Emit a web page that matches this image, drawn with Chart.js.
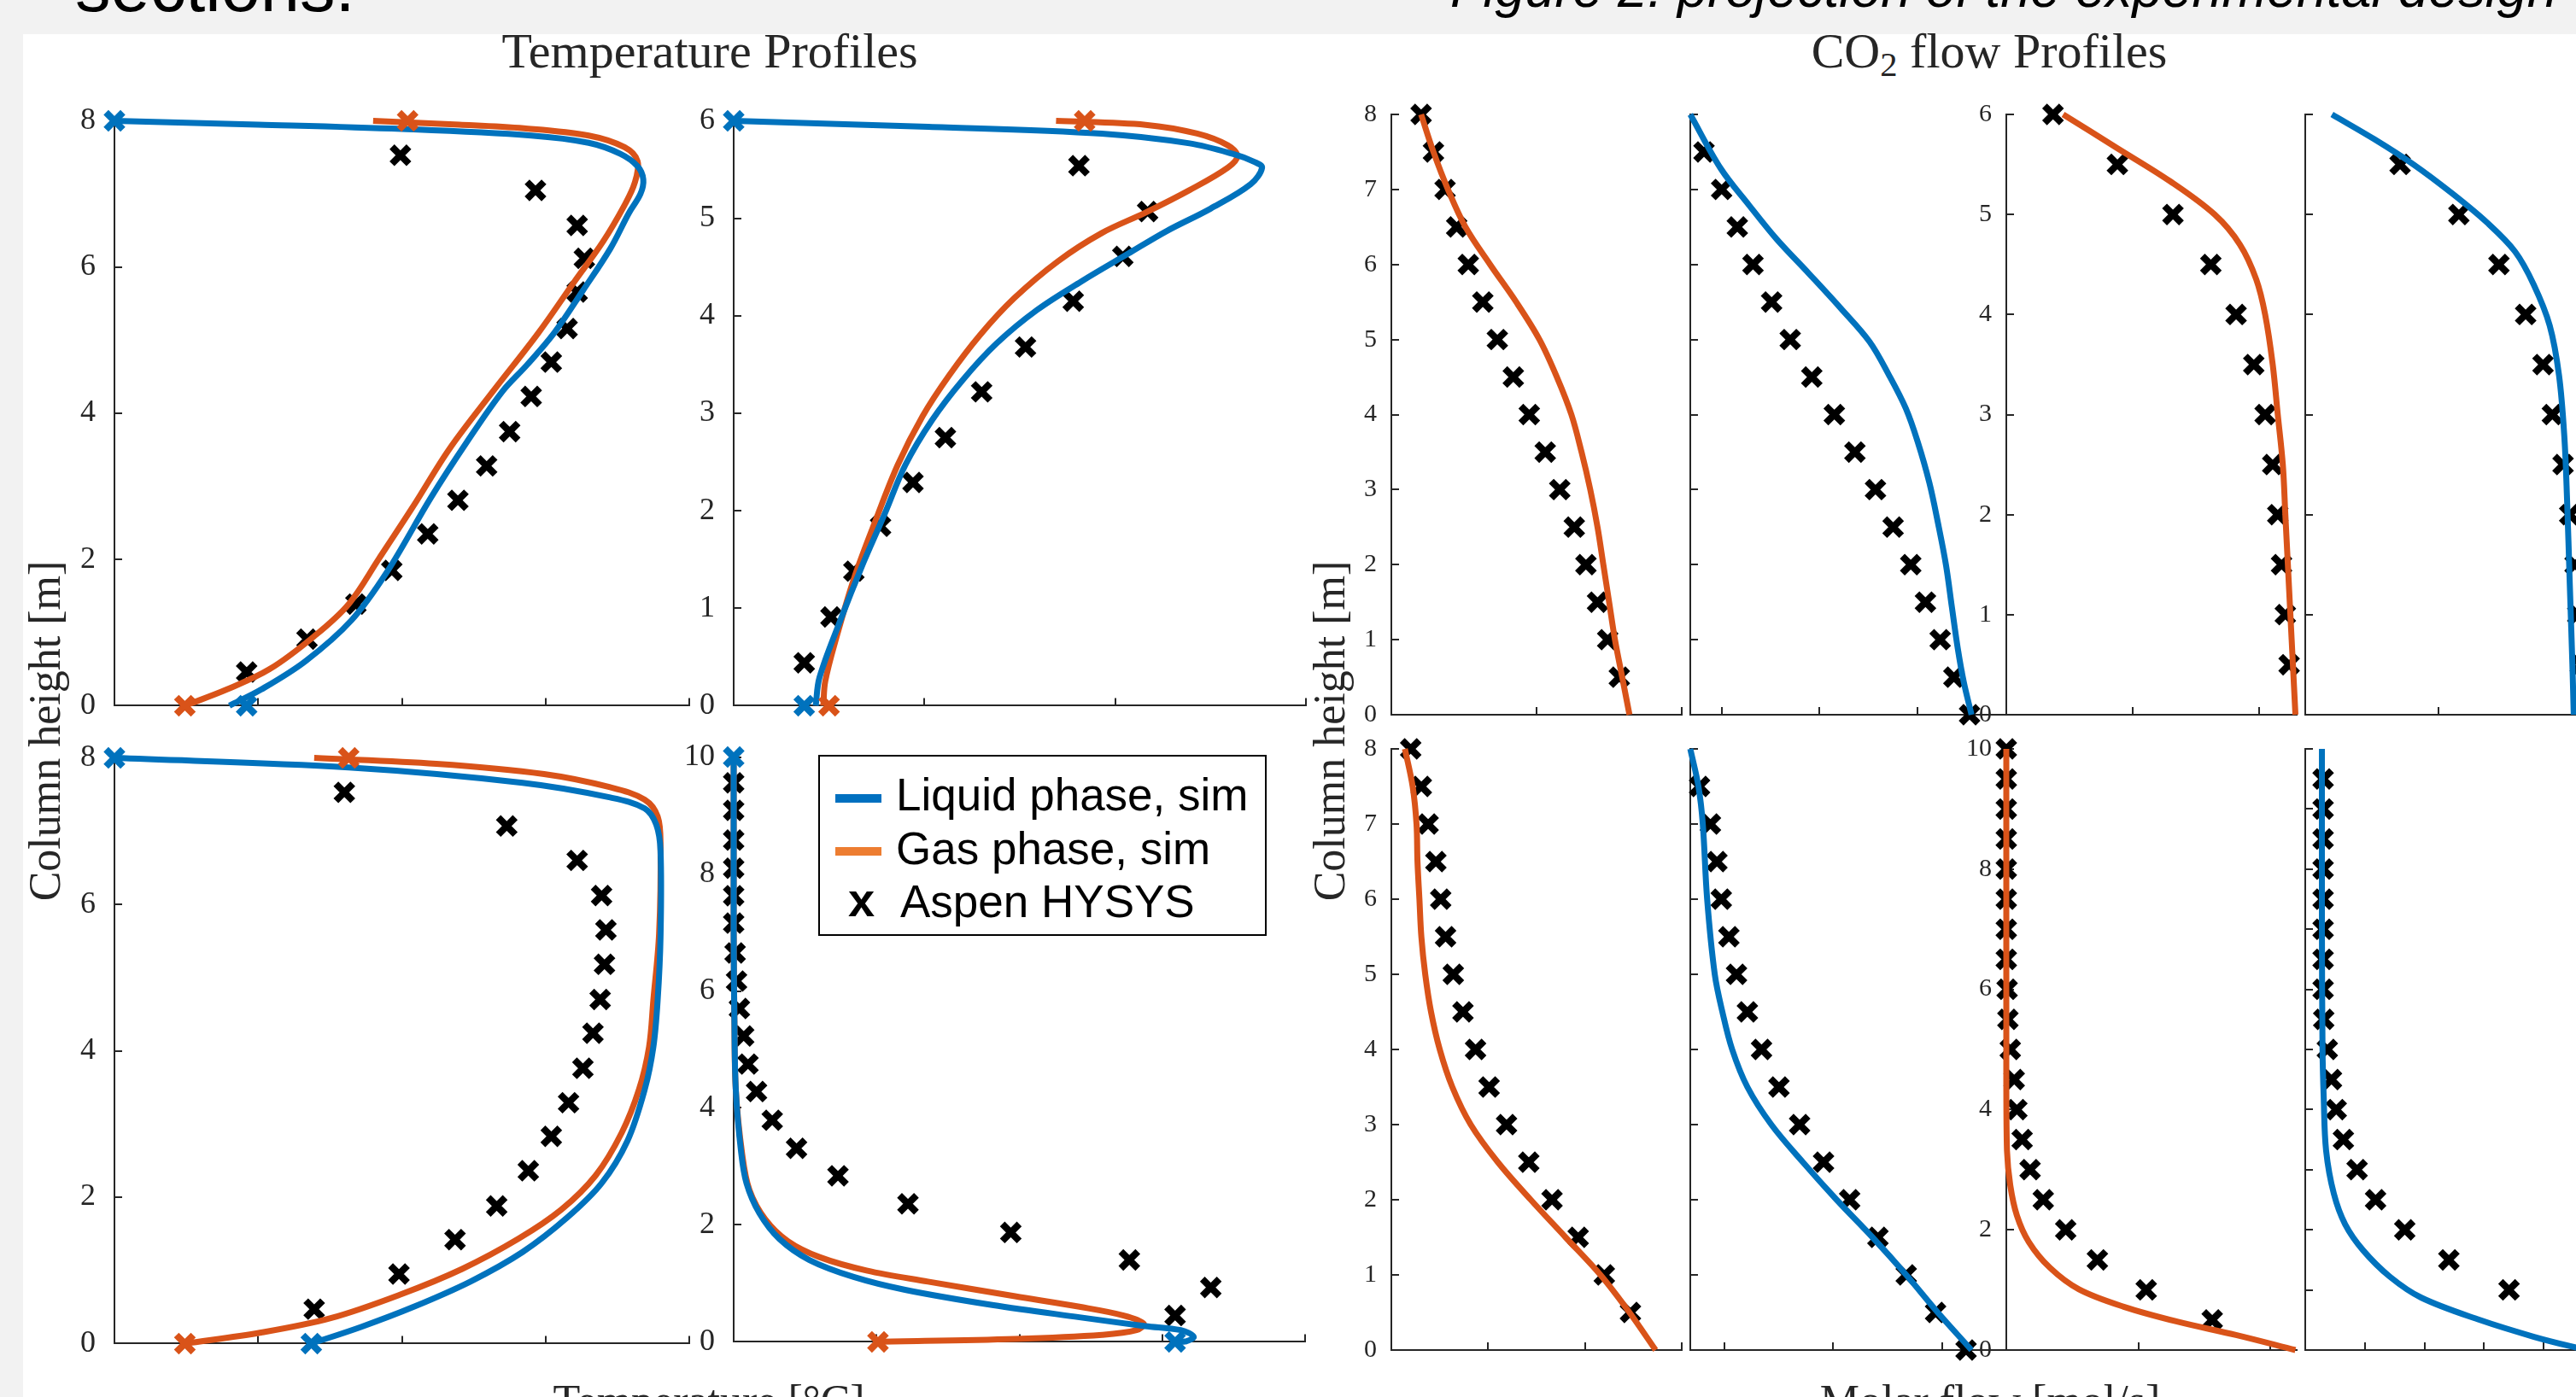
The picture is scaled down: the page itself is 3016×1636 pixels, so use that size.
<!DOCTYPE html>
<html>
<head>
<meta charset="utf-8">
<script src="https://cdn.jsdelivr.net/npm/chart.js@4.4.1/dist/chart.umd.min.js"></script>
<style>
  html, body { margin: 0; padding: 0; }
  body { width: 3016px; height: 1636px; overflow: hidden; background: #f2f2f2; position: relative; }
  #sheet { position: absolute; left: 27px; top: 40px; right: 0; bottom: 0; background: #fff; }
  canvas { position: absolute; }
  .txt { position: absolute; white-space: nowrap; line-height: 1; color: #262626; font-family: "Liberation Serif", serif; }
  .center { transform: translateX(-50%); }
  .ylab { transform: translate(-50%, -50%) rotate(-90deg); }
  #legend { position: absolute; left: 958px; top: 884px; width: 525px; height: 212px; border: 2px solid #000; background: #fff; box-sizing: border-box; font-family: "Liberation Sans", Arial, sans-serif; z-index: 5; }
  #legend .sw { position: absolute; left: 18px; width: 54px; height: 10px; }
  #legend .lt { position: absolute; font-size: 53px; line-height: 1; color: #000; white-space: nowrap; }
</style>
</head>
<body>
<div id="sheet"></div>

<div class="txt" style="left:88px;top:-57px;font-family:'Liberation Sans',Arial,sans-serif;font-size:83px;color:#000;">sections.</div>
<div class="txt" style="left:1698px;top:-45px;font-family:'Liberation Sans',Arial,sans-serif;font-style:italic;font-size:63px;color:#000;">Figure 2: projection of the experimental design</div>

<div class="txt center" style="left:831px;top:31px;font-size:58px;">Temperature Profiles</div>
<div class="txt center" style="left:2329px;top:31px;font-size:58px;">CO<span style="font-size:0.7em;vertical-align:-0.25em;">2</span> flow Profiles</div>
<div class="txt ylab" style="left:53px;top:856px;font-size:52px;">Column height [m]</div>
<div class="txt ylab" style="left:1557px;top:856px;font-size:52px;">Column height [m]</div>
<div class="txt center" style="left:830px;top:1615px;font-size:52px;">Temperature [°C]</div>
<div class="txt center" style="left:2330px;top:1615px;font-size:52px;">Molar flow [mol/s]</div>

<div id="legend">
  <div class="sw" style="top:44px;background:#0070C0;"></div>
  <div class="lt" style="left:89px;top:18px;">Liquid phase, sim</div>
  <div class="sw" style="top:106px;background:#ED7D31;"></div>
  <div class="lt" style="left:89px;top:81px;">Gas phase, sim</div>
  <div class="lt" style="left:33px;top:140px;font-weight:bold;font-size:56px;">x</div>
  <div class="lt" style="left:94px;top:143px;">Aspen HYSYS</div>
</div>

<script>
// colours
const BLUE = '#0072BD';
const ORANGE = '#D95319';
const AX = '#262626';

// ---- Temperature, case 1 (top left) ----
const t1LiqX = [0, 1.0, 2.0, 2.9, 3.3, 3.52, 3.64, 3.68, 3.66, 3.58, 3.45, 3.26, 3.06, 2.87, 2.70, 2.45, 2.20, 1.90, 1.65, 1.33, 1.02, 0.80];
const t1LiqH = [8.0, 7.95, 7.89, 7.80, 7.70, 7.55, 7.38, 7.20, 7.00, 6.74, 6.25, 5.68, 5.10, 4.66, 4.30, 3.60, 2.84, 1.84, 1.17, 0.61, 0.22, 0.0];
const t1GasX = [1.80, 2.4, 2.85, 3.3, 3.55, 3.64, 3.62, 3.55, 3.40, 3.20, 2.95, 2.63, 2.33, 2.08, 1.84, 1.63, 1.39, 1.08, 0.78, 0.49];
const t1GasH = [8.0, 7.95, 7.90, 7.80, 7.64, 7.45, 7.15, 6.85, 6.35, 5.80, 5.10, 4.29, 3.51, 2.73, 2.01, 1.39, 0.95, 0.50, 0.22, 0.0];
const t1HysX = [1.99, 2.93, 3.22, 3.27, 3.22, 3.15, 3.04, 2.90, 2.75, 2.59, 2.39, 2.18, 1.93, 1.68, 1.34, 0.92];
const t1HysH = [7.53, 7.05, 6.57, 6.12, 5.66, 5.16, 4.70, 4.23, 3.75, 3.28, 2.81, 2.35, 1.85, 1.39, 0.91, 0.46];
const t1EndLiqX = [0, 0.92], t1EndLiqH = [8, 0];
const t1EndGasX = [2.04, 0.49], t1EndGasH = [8, 0];

// ---- Temperature, case 2 (top right) ----
const t2LiqX = [0, 1.02, 1.93, 2.39, 2.62, 2.73, 2.77, 2.71, 2.50, 2.27, 2.07, 1.82, 1.59, 1.38, 1.20, 1.04, 0.90, 0.79, 0.67, 0.56, 0.45, 0.43];
const t2LiqH = [6, 5.94, 5.87, 5.77, 5.66, 5.58, 5.52, 5.35, 5.10, 4.87, 4.64, 4.35, 4.06, 3.72, 3.34, 2.93, 2.47, 1.96, 1.42, 0.88, 0.29, 0.0];
const t2GasX = [1.69, 2.16, 2.43, 2.59, 2.64, 2.59, 2.39, 2.16, 1.93, 1.70, 1.47, 1.29, 1.13, 0.99, 0.86, 0.74, 0.63, 0.54, 0.48, 0.47];
const t2GasH = [6.0, 5.96, 5.87, 5.75, 5.64, 5.52, 5.29, 5.06, 4.85, 4.56, 4.18, 3.80, 3.39, 2.97, 2.47, 1.88, 1.30, 0.71, 0.25, 0.0];
const t2HysX = [1.81, 2.17, 2.04, 1.78, 1.53, 1.30, 1.11, 0.94, 0.77, 0.63, 0.51, 0.37];
const t2HysH = [5.54, 5.07, 4.61, 4.15, 3.68, 3.22, 2.75, 2.29, 1.84, 1.38, 0.91, 0.44];
const t2EndLiqX = [0, 0.37], t2EndLiqH = [6, 0];
const t2EndGasX = [1.84, 0.50], t2EndGasH = [6, 0];

// ---- Temperature, case 3 (bottom left) ----
const t3LiqX = [0, 1.63, 2.84, 3.45, 3.69, 3.77, 3.80, 3.80, 3.78, 3.75, 3.69, 3.57, 3.39, 3.15, 2.84, 2.48, 2.08, 1.72, 1.37];
const t3LiqH = [8, 7.87, 7.66, 7.46, 7.31, 7.09, 6.73, 5.56, 4.69, 4.05, 3.47, 2.77, 2.19, 1.72, 1.25, 0.85, 0.50, 0.23, 0];
const t3GasX = [1.39, 2.24, 2.99, 3.45, 3.69, 3.78, 3.80, 3.79, 3.75, 3.72, 3.65, 3.53, 3.35, 3.11, 2.81, 2.42, 1.99, 1.51, 1.02, 0.49];
const t3GasH = [8, 7.92, 7.78, 7.60, 7.43, 7.20, 6.80, 5.6, 4.69, 4.05, 3.47, 2.88, 2.30, 1.83, 1.43, 1.02, 0.67, 0.35, 0.15, 0];
const t3HysX = [1.60, 2.73, 3.22, 3.39, 3.42, 3.41, 3.38, 3.33, 3.26, 3.16, 3.04, 2.88, 2.66, 2.37, 1.98, 1.39];
const t3HysH = [7.53, 7.07, 6.60, 6.12, 5.65, 5.18, 4.70, 4.24, 3.76, 3.29, 2.83, 2.36, 1.88, 1.42, 0.95, 0.47];
const t3EndLiqX = [0, 1.37], t3EndLiqH = [8, 0];
const t3EndGasX = [1.63, 0.49], t3EndGasH = [8, 0];

// ---- Temperature, case 4 (bottom right) ----
const t4LiqX = [0, 0, 0.005, 0.015, 0.05, 0.09, 0.18, 0.32, 0.53, 0.84, 1.20, 1.81, 2.42, 2.88, 3.13, 3.22, 3.17, 3.09];
const t4LiqH = [10, 7, 5.5, 4.3, 3.29, 2.71, 2.20, 1.76, 1.40, 1.11, 0.89, 0.63, 0.42, 0.27, 0.20, 0.09, 0.01, 0];
const t4GasX = [0, 0, 0.005, 0.015, 0.06, 0.11, 0.22, 0.38, 0.60, 0.93, 1.36, 1.97, 2.42, 2.73, 2.87, 2.82, 2.58, 1.97, 1.01];
const t4GasH = [10, 7, 5.5, 4.3, 3.2, 2.6, 2.1, 1.72, 1.45, 1.22, 1.03, 0.78, 0.60, 0.45, 0.31, 0.20, 0.12, 0.05, 0];
const t4HysX = [0, 0, 0, 0, 0, 0, 0.01, 0.02, 0.04, 0.07, 0.10, 0.16, 0.27, 0.44, 0.73, 1.22, 1.94, 2.77, 3.34, 3.09];
const t4HysH = [9.56, 9.09, 8.58, 8.10, 7.63, 7.16, 6.65, 6.17, 5.70, 5.23, 4.75, 4.28, 3.79, 3.31, 2.84, 2.36, 1.87, 1.40, 0.93, 0.45];
const t4EndLiqX = [0, 3.09], t4EndLiqH = [10, 0];
const t4EndGasX = [1.01], t4EndGasH = [0];

// ---- CO2 flow, case 1 gas / liquid ----
const c1GasX = [0.205, 0.29, 0.39, 0.51, 0.68, 0.86, 1.02, 1.14, 1.24, 1.31, 1.37, 1.42, 1.46, 1.50, 1.54, 1.59, 1.64];
const c1GasH = [8, 7.5, 7, 6.5, 6, 5.5, 5, 4.5, 4, 3.5, 3, 2.5, 2, 1.5, 1, 0.5, 0];
const c1HysX = [0.205, 0.29, 0.37, 0.45, 0.53, 0.63, 0.73, 0.84, 0.95, 1.06, 1.16, 1.26, 1.34, 1.42, 1.49, 1.57];
const c1HysH = [8, 7.5, 7, 6.5, 6, 5.5, 5, 4.5, 4, 3.5, 3, 2.5, 2, 1.5, 1, 0.5];
const c2LiqX = [0.68, 0.99, 1.28, 1.56, 1.89, 2.22, 2.51, 2.71, 2.88, 3.00, 3.12, 3.21, 3.29, 3.35, 3.41, 3.47, 3.55];
const c2LiqH = [8, 7.28, 6.79, 6.34, 5.88, 5.41, 4.97, 4.52, 4.08, 3.64, 3.09, 2.54, 1.99, 1.43, 0.88, 0.44, 0];
const c2HysX = [0.82, 1.00, 1.16, 1.32, 1.51, 1.70, 1.92, 2.15, 2.36, 2.57, 2.75, 2.93, 3.08, 3.23, 3.37, 3.53];
const c2HysH = [7.5, 7, 6.5, 6, 5.5, 5, 4.5, 4, 3.5, 3, 2.5, 2, 1.5, 1, 0.5, 0];

// ---- CO2 flow, case 2 gas / liquid ----
const c3GasX = [0.45, 0.87, 1.30, 1.65, 1.85, 1.98, 2.05, 2.11, 2.15, 2.19, 2.21, 2.23, 2.25, 2.27, 2.29];
const c3GasH = [6, 5.67, 5.33, 5.0, 4.7, 4.35, 4.0, 3.5, 3.0, 2.5, 2.0, 1.5, 1.0, 0.5, 0];
const c3HysX = [0.37, 0.88, 1.32, 1.62, 1.82, 1.96, 2.05, 2.11, 2.15, 2.18, 2.21, 2.24];
const c3HysH = [6, 5.5, 5, 4.5, 4, 3.5, 3, 2.5, 2, 1.5, 1, 0.5];
const c4LiqX = [0.20, 0.52, 0.81, 1.10, 1.36, 1.57, 1.71, 1.83, 1.90, 1.94, 1.96, 1.98, 2.00, 2.01];
const c4LiqH = [6, 5.75, 5.50, 5.21, 4.92, 4.63, 4.30, 3.89, 3.39, 2.77, 2.15, 1.32, 0.50, 0];
const c4HysX = [0.71, 1.15, 1.45, 1.65, 1.78, 1.85, 1.93, 1.98, 2.02, 2.04, 2.06];
const c4HysH = [5.5, 5, 4.5, 4, 3.5, 3, 2.5, 2, 1.5, 1, 0.5];

// ---- CO2 flow, case 3 gas / liquid ----
const d1GasX = [0.14, 0.22, 0.26, 0.27, 0.29, 0.31, 0.35, 0.41, 0.50, 0.63, 0.82, 1.10, 1.44, 1.80, 2.16, 2.46, 2.73];
const d1GasH = [8, 7.5, 7, 6.5, 6, 5.5, 5, 4.5, 4, 3.5, 3, 2.5, 2, 1.5, 1, 0.5, 0];
const d1HysX = [0.20, 0.31, 0.38, 0.46, 0.51, 0.56, 0.64, 0.74, 0.87, 1.01, 1.19, 1.42, 1.66, 1.93, 2.20, 2.47];
const d1HysH = [8, 7.5, 7, 6.5, 6, 5.5, 5, 4.5, 4, 3.5, 3, 2.5, 2, 1.5, 1, 0.5];
const d2LiqX = [0.685, 0.76, 0.80, 0.84, 0.91, 0.98, 1.07, 1.21, 1.43, 1.72, 2.03, 2.36, 2.67, 2.96, 3.27];
const d2LiqH = [8, 7.5, 7, 6, 5, 4.5, 4, 3.5, 3, 2.5, 2, 1.5, 1, 0.5, 0];
const d2HysX = [0.77, 0.87, 0.93, 0.97, 1.04, 1.11, 1.21, 1.34, 1.50, 1.69, 1.91, 2.15, 2.41, 2.67, 2.94, 3.22];
const d2HysH = [7.5, 7, 6.5, 6, 5.5, 5, 4.5, 4, 3.5, 3, 2.5, 2, 1.5, 1, 0.5, 0];

// ---- CO2 flow, case 4 gas / liquid ----
const d3GasX = [0, 0, 0, 0.005, 0.03, 0.08, 0.17, 0.33, 0.55, 0.89, 1.30, 1.74, 2.19];
const d3GasH = [10, 7, 4.5, 3.32, 2.74, 2.24, 1.80, 1.37, 1.01, 0.72, 0.47, 0.25, 0];
const d3HysX = [0, 0, 0, 0, 0, 0, 0, 0, 0.006, 0.012, 0.03, 0.06, 0.08, 0.12, 0.18, 0.28, 0.45, 0.69, 1.06, 1.56];
const d3HysH = [10, 9.5, 9, 8.5, 8, 7.5, 7, 6.5, 6, 5.5, 5, 4.5, 4, 3.5, 3, 2.5, 2, 1.5, 1, 0.5];
const d4LiqX = [0.28, 0.28, 0.29, 0.31, 0.35, 0.48, 0.67, 0.97, 1.42, 1.95, 2.93, 3.84, 4.55, 4.75];
const d4LiqH = [10, 7, 5, 4.2, 3.32, 2.6, 2.09, 1.66, 1.22, 0.87, 0.5, 0.22, 0.04, 0];
const d4HysX = [0.30, 0.30, 0.30, 0.30, 0.30, 0.30, 0.30, 0.30, 0.31, 0.37, 0.44, 0.52, 0.64, 0.87, 1.18, 1.67, 2.41, 3.42];
const d4HysH = [9.5, 9, 8.5, 8, 7.5, 7, 6.5, 6, 5.5, 5, 4.5, 4, 3.5, 3, 2.5, 2, 1.5, 1];

// ---- helpers ----
const pts = (xs, hs) => xs.map((x, i) => ({ x: x, y: hs[i] }));

function curve(xs, hs, color) {
  return { data: pts(xs, hs), showLine: true, borderColor: color, borderWidth: 7,
           pointRadius: 0, tension: 0.35, fill: false, clip: false };
}
function marks(xs, hs, color) {
  return { data: pts(xs, hs), showLine: false, pointStyle: 'crossRot', pointRadius: 14,
           borderWidth: 8, borderColor: color, backgroundColor: color, clip: false };
}

// MATLAB style ticks pointing into the axes
const inTicks = {
  id: 'inTicks',
  beforeDatasetsDraw(chart, args, opts) {
    const { ctx, chartArea: a, scales: { x, y } } = chart;
    ctx.save();
    ctx.strokeStyle = AX;
    ctx.lineWidth = 2;
    ctx.beginPath();
    opts.x.forEach(v => { const px = Math.round(x.getPixelForValue(v)); ctx.moveTo(px, a.bottom); ctx.lineTo(px, a.bottom - 9); });
    opts.y.forEach(v => { const py = Math.round(y.getPixelForValue(v)); ctx.moveTo(a.left, py); ctx.lineTo(a.left + 9, py); });
    ctx.stroke();
    ctx.restore();
  }
};

function panel(p) {
  const PAD = 30;
  const LW = p.labels ? 70 : 12;
  const c = document.createElement('canvas');
  c.width = LW + p.w + PAD;
  c.height = p.h + 2 * PAD;
  c.style.left = (p.x - LW) + 'px';
  c.style.top = (p.y - PAD) + 'px';
  document.body.appendChild(c);

  new Chart(c, {
    type: 'scatter',
    data: { datasets: p.sets },
    options: {
      responsive: false,
      animation: false,
      events: [],
      layout: { padding: { left: 0, top: PAD, right: PAD, bottom: PAD } },
      plugins: { legend: { display: false }, tooltip: { enabled: false },
                 inTicks: { x: p.xTicks, y: p.yTicks } },
      scales: {
        x: { type: 'linear', min: p.xMin, max: p.xMax,
             grid: { display: false }, border: { color: AX, width: 2 },
             ticks: { display: false },
             afterFit: s => { s.height = 0; } },
        y: { type: 'linear', min: p.yMin, max: p.yMax,
             grid: { display: false }, border: { color: AX, width: 2 },
             ticks: { display: p.labels, autoSkip: false, padding: p.pad, color: '#262626',
                      font: { family: 'Liberation Serif', size: p.fs },
                      callback: v => String(v) },
             afterBuildTicks: s => { s.ticks = p.yTicks.map(v => ({ value: v })); },
             afterFit: s => { s.width = LW; } }
      }
    },
    plugins: [inTicks]
  });
}

const panels = [
  { x: 134, y: 136, w: 673, h: 696, xMin: 0, xMax: 4, xTicks: [1, 2, 3, 4], yMin: 0, yMax: 8, yTicks: [0, 2, 4, 6, 8], labels: true, fs: 36, pad: 14,
    sets: [marks(t1EndLiqX, t1EndLiqH, BLUE), marks(t1EndGasX, t1EndGasH, ORANGE), curve(t1LiqX, t1LiqH, BLUE), curve(t1GasX, t1GasH, ORANGE), marks(t1HysX, t1HysH, '#000')] },
  { x: 859, y: 136, w: 670, h: 696, xMin: 0, xMax: 3, xTicks: [1, 2, 3], yMin: 0, yMax: 6, yTicks: [0, 1, 2, 3, 4, 5, 6], labels: true, fs: 36, pad: 14,
    sets: [marks(t2EndLiqX, t2EndLiqH, BLUE), marks(t2EndGasX, t2EndGasH, ORANGE), curve(t2LiqX, t2LiqH, BLUE), curve(t2GasX, t2GasH, ORANGE), marks(t2HysX, t2HysH, '#000')] },
  { x: 134, y: 882, w: 673, h: 697, xMin: 0, xMax: 4, xTicks: [1, 2, 3, 4], yMin: 0, yMax: 8, yTicks: [0, 2, 4, 6, 8], labels: true, fs: 36, pad: 14,
    sets: [marks(t3EndLiqX, t3EndLiqH, BLUE), marks(t3EndGasX, t3EndGasH, ORANGE), curve(t3LiqX, t3LiqH, BLUE), curve(t3GasX, t3GasH, ORANGE), marks(t3HysX, t3HysH, '#000')] },
  { x: 859, y: 881, w: 669, h: 696, xMin: 0, xMax: 4, xTicks: [1, 2, 3, 4], yMin: 0, yMax: 10, yTicks: [0, 2, 4, 6, 8, 10], labels: true, fs: 36, pad: 14,
    sets: [marks(t4EndLiqX, t4EndLiqH, BLUE), marks(t4EndGasX, t4EndGasH, ORANGE), curve(t4LiqX, t4LiqH, BLUE), curve(t4GasX, t4GasH, ORANGE), marks(t4HysX, t4HysH, '#000')] },

  { x: 1629, y: 134, w: 340, h: 703, xMin: 0, xMax: 2, xTicks: [1, 2], yMin: 0, yMax: 8, yTicks: [0, 1, 2, 3, 4, 5, 6, 7, 8], labels: true, fs: 30, pad: 9,
    sets: [curve(c1GasX, c1GasH, ORANGE), marks(c1HysX, c1HysH, '#000')] },
  { x: 1969, y: 134, w: 380, h: 703, xMin: 0.68, xMax: 3.905, xTicks: [1, 2, 3], yMin: 0, yMax: 8, yTicks: [0, 1, 2, 3, 4, 5, 6, 7, 8], labels: false,
    sets: [curve(c2LiqX, c2LiqH, BLUE), marks(c2HysX, c2HysH, '#000')] },
  { x: 2349, y: 134, w: 340, h: 703, xMin: 0, xMax: 2.30, xTicks: [1, 2], yMin: 0, yMax: 6, yTicks: [0, 1, 2, 3, 4, 5, 6], labels: true, fs: 30, pad: 9,
    sets: [curve(c3GasX, c3GasH, ORANGE), marks(c3HysX, c3HysH, '#000')] },
  { x: 2689, y: 134, w: 340, h: 703, xMin: 0, xMax: 2.11, xTicks: [1, 2], yMin: 0, yMax: 6, yTicks: [0, 1, 2, 3, 4, 5, 6], labels: false,
    sets: [curve(c4LiqX, c4LiqH, BLUE), marks(c4HysX, c4HysH, '#000')] },

  { x: 1629, y: 877, w: 340, h: 704, xMin: 0, xMax: 3, xTicks: [1, 2, 3], yMin: 0, yMax: 8, yTicks: [0, 1, 2, 3, 4, 5, 6, 7, 8], labels: true, fs: 30, pad: 9,
    sets: [curve(d1GasX, d1GasH, ORANGE), marks(d1HysX, d1HysH, '#000')] },
  { x: 1969, y: 877, w: 380, h: 704, xMin: 0.685, xMax: 3.59, xTicks: [1, 2, 3], yMin: 0, yMax: 8, yTicks: [0, 1, 2, 3, 4, 5, 6, 7, 8], labels: false,
    sets: [curve(d2LiqX, d2LiqH, BLUE), marks(d2HysX, d2HysH, '#000')] },
  { x: 2349, y: 877, w: 340, h: 704, xMin: 0, xMax: 2.2, xTicks: [1, 2], yMin: 0, yMax: 10, yTicks: [0, 2, 4, 6, 8, 10], labels: true, fs: 30, pad: 9,
    sets: [curve(d3GasX, d3GasH, ORANGE), marks(d3HysX, d3HysH, '#000')] },
  { x: 2689, y: 877, w: 340, h: 704, xMin: 0, xMax: 4.73, xTicks: [1, 2, 3, 4], yMin: 0, yMax: 10, yTicks: [0, 1, 2, 3, 4, 5, 6, 7, 8, 9, 10], labels: false,
    sets: [curve(d4LiqX, d4LiqH, BLUE), marks(d4HysX, d4HysH, '#000')] }
];

panels.forEach(panel);
</script>
</body>
</html>
